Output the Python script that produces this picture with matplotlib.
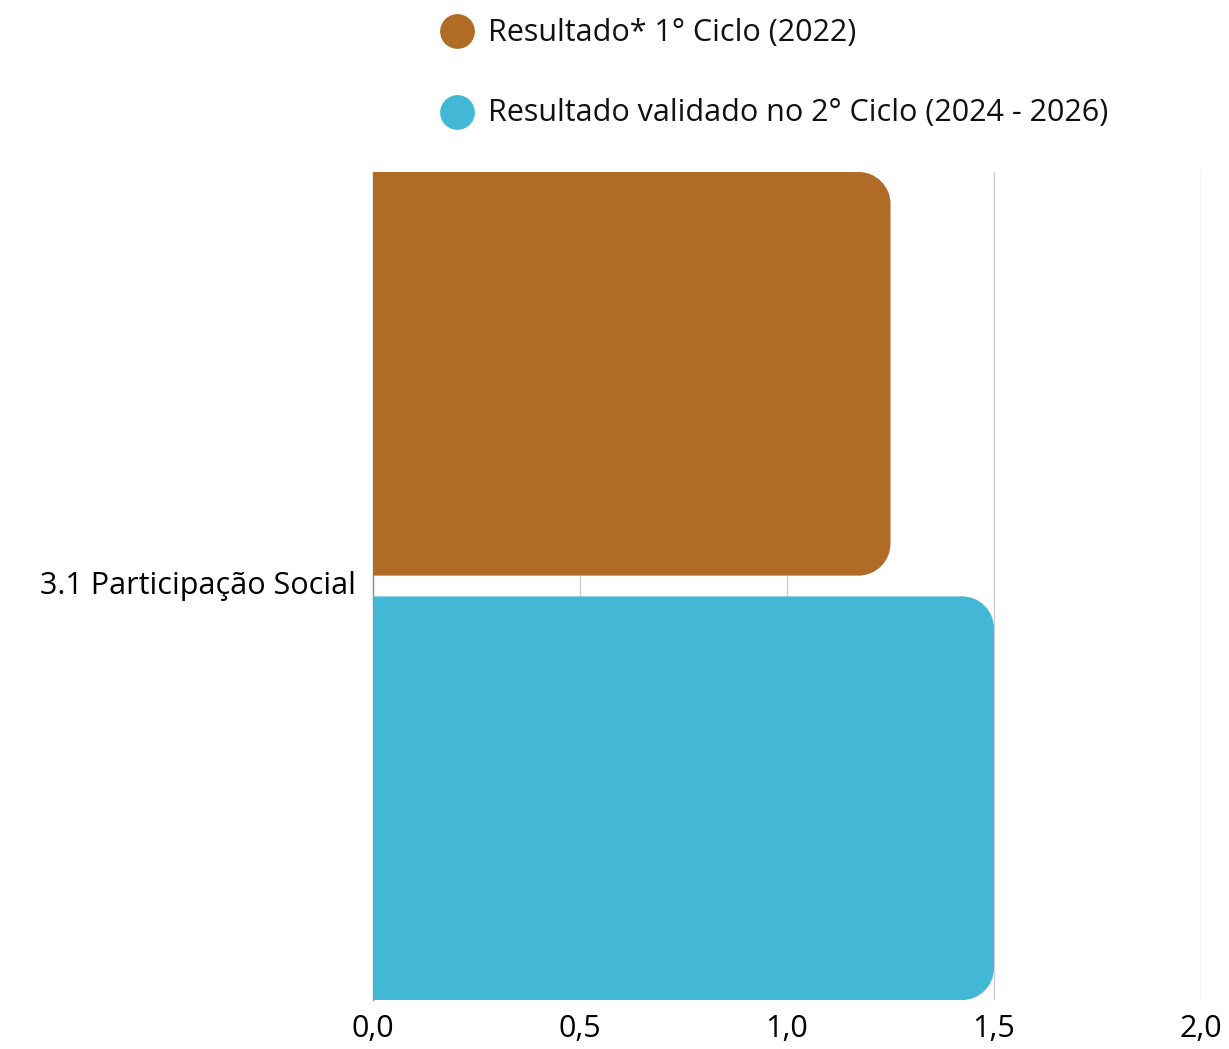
import numpy as np
import matplotlib.pyplot as plt
from matplotlib.path import Path
from matplotlib.patches import PathPatch
from matplotlib.lines import Line2D

# Datos del gráfico
categorias = ["3.1 Participação Social"]
series = ["Resultado* 1° Ciclo (2022)", "Resultado validado no 2° Ciclo (2024 - 2026)"]
valores = [1.25, 1.5]
colores = ["#B06C27", "#42B8D6"]
ticks_x = [0.0, 0.5, 1.0, 1.5, 2.0]
etiquetas_x = ["0,0", "0,5", "1,0", "1,5", "2,0"]

plt.rcParams["font.family"] = ["Open Sans", "DejaVu Sans"]
TAM = 22

W, H = 1229, 1049
fig = plt.figure(figsize=(W / 100, H / 100), dpi=100)
# Ejes en píxeles: x 373..1201, y 172..1000
ax = fig.add_axes([373 / W, 1 - 1000 / H, (1201 - 373) / W, (1000 - 172) / H])

ax.set_xlim(0, 2)
ax.set_ylim(0.5, -0.5)

alto = 0.4875
desplaz = [-0.2563, 0.2563]

# Radio de las esquinas en unidades de datos
px_x = (1201 - 373) / 2.0
px_y = (1000 - 172) / 1.0
rx = 32 / px_x
ry = 32 / px_y


def barra_redondeada(y0, y1, x1, color):
    # rectángulo con esquinas derechas redondeadas
    k = 0.5523
    verts = [
        (0, y0),
        (x1 - rx, y0),
        (x1 - rx + k * rx, y0), (x1, y0 + ry - k * ry), (x1, y0 + ry),
        (x1, y1 - ry),
        (x1, y1 - ry + k * ry), (x1 - rx + k * rx, y1), (x1 - rx, y1),
        (0, y1),
        (0, y0),
    ]
    codes = [Path.MOVETO, Path.LINETO,
             Path.CURVE4, Path.CURVE4, Path.CURVE4,
             Path.LINETO,
             Path.CURVE4, Path.CURVE4, Path.CURVE4,
             Path.LINETO, Path.CLOSEPOLY]
    ax.add_patch(PathPatch(Path(verts, codes), facecolor=color, edgecolor="none", zorder=3))


for i, cat in enumerate(categorias):
    for j, v in enumerate(valores):
        yc = i + desplaz[j]
        barra_redondeada(yc - alto / 2, yc + alto / 2, v, colores[j])

# Rejilla vertical
for t in ticks_x[1:]:
    ax.axvline(t, color="#D0D0D0", lw=1, zorder=1)

for s in ["top", "right", "bottom"]:
    ax.spines[s].set_visible(False)
ax.spines["left"].set_color("#888888")
ax.spines["left"].set_linewidth(1)
ax.spines["left"].set_zorder(2)

ax.set_xticks(ticks_x)
ax.set_xticklabels(etiquetas_x, fontsize=TAM)
ax.set_yticks(range(len(categorias)))
ax.set_yticklabels(categorias, fontsize=TAM)
ax.tick_params(axis="both", length=0)
ax.tick_params(axis="x", pad=10)
ax.tick_params(axis="y", pad=12)
for lbl in ax.get_yticklabels():
    lbl.set_va("center")

# Leyenda manual
ley_y = [1 - 31 / H, 1 - 112 / H]
for j, nombre in enumerate(series):
    fig.add_artist(Line2D([456.5 / W], [ley_y[j]], marker="o", markersize=24,
                          color=colores[j], linestyle="none", transform=fig.transFigure))
    fig.text(488 / W, ley_y[j] - 1.5 / H, nombre, fontsize=TAM, va="center",
             ha="left", color="#111111")

fig.savefig("out.png", dpi=100)
